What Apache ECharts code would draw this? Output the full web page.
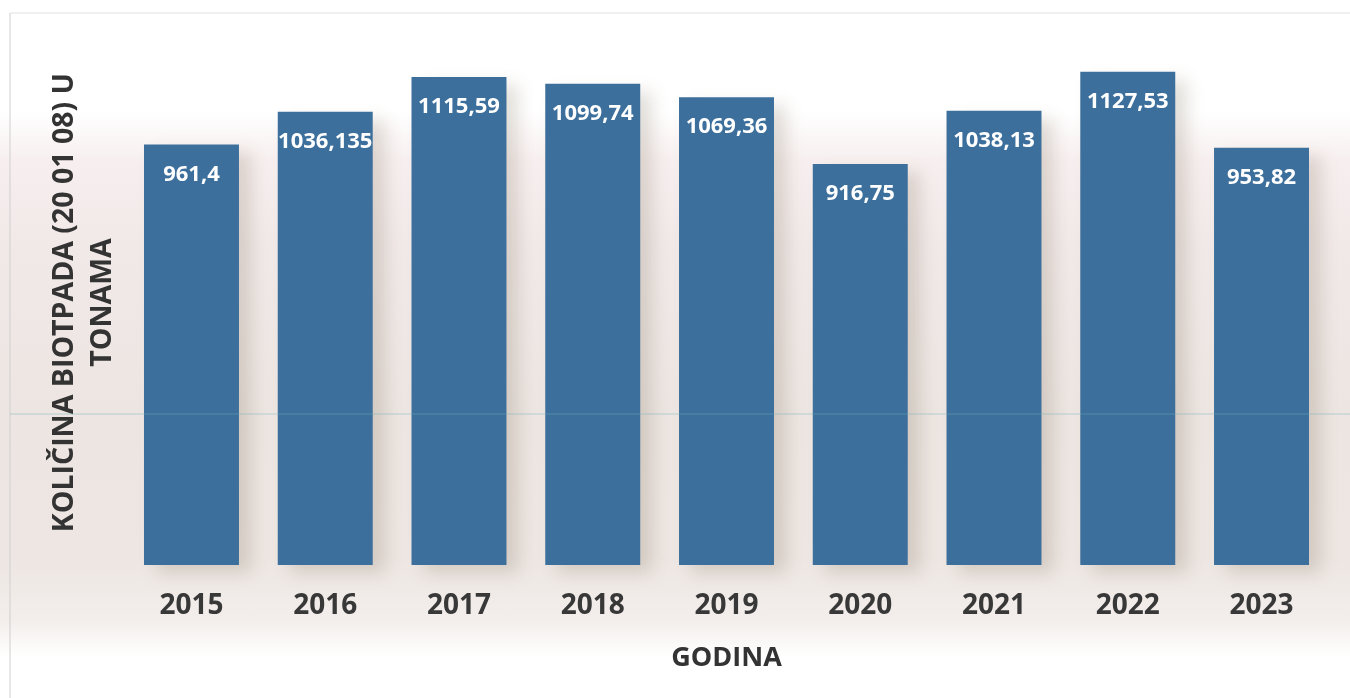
<!DOCTYPE html>
<html>
<head>
<meta charset="utf-8">
<script src="https://cdn.jsdelivr.net/npm/echarts@6/dist/echarts.min.js"></script>
<style>
html,body{margin:0;padding:0;background:#fff;}
#chart{width:1350px;height:698px;
background:linear-gradient(to bottom,#ffffff 0%,#ffffff 16%,#f7efef 23%,#f1e9e8 35%,#ece5e1 60%,#ede6e2 80%,#f3eeec 89%,#ffffff 94%,#ffffff 100%);}
</style>
</head>
<body>
<div id="chart"></div>
<script>
const categories = ['2015','2016','2017','2018','2019','2020','2021','2022','2023'];
const values = [961.4, 1036.135, 1115.59, 1099.74, 1069.36, 916.75, 1038.13, 1127.53, 953.82];
const yAxisName = 'KOLIČINA BIOTPADA (20 01 08) U\nTONAMA';
const xAxisName = 'GODINA';

const FONT = 'Open Sans';
const chart = echarts.init(document.getElementById('chart'), null, {renderer:'canvas'});
chart.setOption({
  backgroundColor: 'transparent',
  animation: false,
  graphic: [
    {type:'line', shape:{x1:10,y1:13,x2:1350,y2:13}, style:{stroke:'#e2e2e2',lineWidth:1}, z:-1},
    {type:'line', shape:{x1:10,y1:13,x2:10,y2:698}, style:{stroke:'#cfcfcf',lineWidth:1}, z:-1},
    {type:'line', shape:{x1:10,y1:414,x2:1350,y2:414}, style:{stroke:'rgba(110,175,185,0.45)',lineWidth:1}, z:100}
  ],
  grid: {left:124.6, right:21.6, top:40, bottom:133},
  xAxis: {
    type:'category', data:categories,
    axisLine:{show:false}, axisTick:{show:false},
    axisLabel:{color:'#383838', fontFamily:FONT, fontWeight:'bold', fontSize:28, margin:27},
    name:xAxisName, nameLocation:'middle', nameGap:80,
    nameTextStyle:{color:'#333', fontFamily:FONT, fontWeight:'bold', fontSize:27}
  },
  yAxis: {
    type:'value', min:0, max:1200,
    axisLine:{show:false}, axisTick:{show:false}, axisLabel:{show:false}, splitLine:{show:false},
    name:yAxisName, nameLocation:'middle', nameGap:3, nameRotate:90,
    nameTextStyle:{color:'#333', fontFamily:FONT, fontWeight:'bold', fontSize:28.5, lineHeight:38, align:'center',
      width:700, overflow:'none'}
  },
  series: [{
    type:'bar', data:values, barCategoryGap:'29%',
    itemStyle:{color:'#3c6f9b', shadowColor:'rgba(110,95,70,0.2)', shadowBlur:16, shadowOffsetX:12, shadowOffsetY:8},
    label:{show:true, position:'insideTop', distance:19, color:'#ffffff', fontFamily:FONT, fontWeight:'bold', fontSize:22,
      formatter: p => String(p.value).replace('.', ',')}
  }]
});
</script>
</body>
</html>
